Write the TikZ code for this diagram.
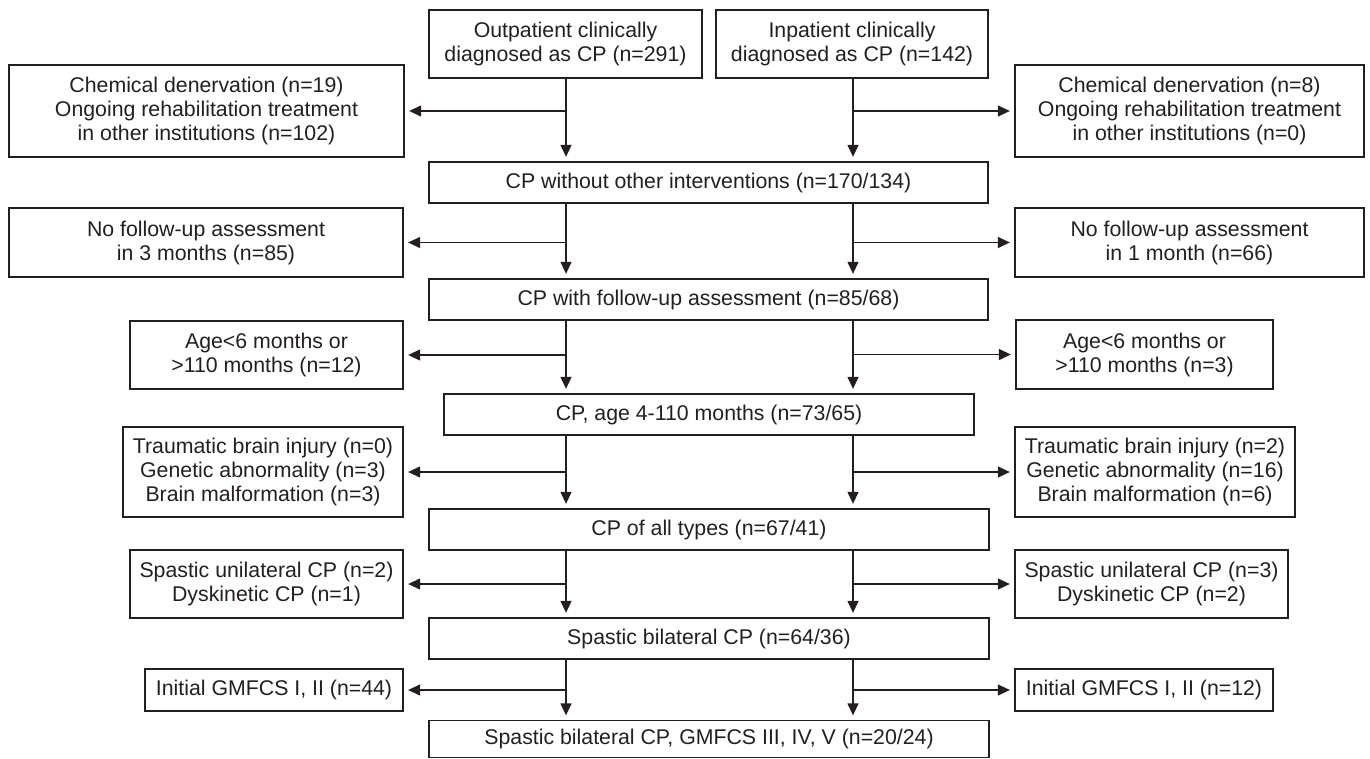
\documentclass[tikz,border=0pt]{standalone}
\usepackage{fontspec}
\setmainfont{Liberation Sans}
\usetikzlibrary{arrows.meta}
\definecolor{ink}{RGB}{35,31,32}
\begin{document}
\begin{tikzpicture}[x=1pt,y=-1pt,
  box/.style={draw=ink, text=ink, line width=1.3pt, align=center, inner sep=0pt,
    font=\fontsize{21.3}{24}\selectfont},
  arr/.style={draw=ink, -{Triangle[length=12pt,width=11pt]}, line width=1.3pt, shorten >=4.5pt}]
\useasboundingbox (0,0) rectangle (1370,759);
% top
\node[box, minimum width=273pt, minimum height=68pt] (out) at (565.5,44) {Outpatient clinically\\diagnosed as CP (n=291)};
\node[box, minimum width=272pt, minimum height=68pt] (inp) at (852,44) {Inpatient clinically\\diagnosed as CP (n=142)};
\node[box, minimum width=395pt, minimum height=92pt] (L1) at (206.5,111) {Chemical denervation (n=19)\\Ongoing rehabilitation treatment\\in other institutions (n=102)};
\node[box, minimum width=349pt, minimum height=92pt] (R1) at (1189.5,111) {Chemical denervation (n=8)\\Ongoing rehabilitation treatment\\in other institutions (n=0)};
\node[box, minimum width=559pt, minimum height=41pt] (C1) at (708.5,182.5) {CP without other interventions (n=170/134)};
\node[box, minimum width=394pt, minimum height=69pt] (L2) at (206,242.5) {No follow-up assessment\\in 3 months (n=85)};
\node[box, minimum width=349pt, minimum height=69pt] (R2) at (1189.5,242.5) {No follow-up assessment\\in 1 month (n=66)};
\node[box, minimum width=559pt, minimum height=41pt] (C2) at (708.5,299.5) {CP with follow-up assessment (n=85/68)};
\node[box, minimum width=273pt, minimum height=68pt] (L3) at (266.5,355) {Age<6 months or\\>110 months (n=12)};
\node[box, minimum width=257pt, minimum height=69pt] (R3) at (1144.5,354.5) {Age<6 months or\\>110 months (n=3)};
\node[box, minimum width=530pt, minimum height=41pt] (C3) at (709,414.5) {CP, age 4-110 months (n=73/65)};
\node[box, minimum width=280pt, minimum height=90pt] (L4) at (263,472) {Traumatic brain injury (n=0)\\Genetic abnormality (n=3)\\Brain malformation (n=3)};
\node[box, minimum width=280pt, minimum height=90pt] (R4) at (1155,472) {Traumatic brain injury (n=2)\\Genetic abnormality (n=16)\\Brain malformation (n=6)};
\node[box, minimum width=560pt, minimum height=41pt] (C4) at (709,529.5) {CP of all types (n=67/41)};
\node[box, minimum width=273pt, minimum height=68pt] (L5) at (266.5,584) {Spastic unilateral CP (n=2)\\Dyskinetic CP (n=1)};
\node[box, minimum width=273pt, minimum height=68pt] (R5) at (1151.5,584) {Spastic unilateral CP (n=3)\\Dyskinetic CP (n=2)};
\node[box, minimum width=560pt, minimum height=41pt] (C5) at (709,638.5) {Spastic bilateral CP (n=64/36)};
\node[box, minimum width=258pt, minimum height=42pt] (L6) at (274,690) {Initial GMFCS I, II (n=44)};
\node[box, minimum width=258pt, minimum height=42pt] (R6) at (1144,690) {Initial GMFCS I, II (n=12)};
\node[box, minimum width=560pt, minimum height=37pt] (C6) at (709,739) {Spastic bilateral CP, GMFCS III, IV, V (n=20/24)};
% trunk coordinates
\coordinate (vL) at (566,0);
\coordinate (vR) at (853,0);
% connectors
\draw[arr] (vL |- out.south) -- (vL |- C1.north);
\draw[arr] (vL |- L1.east) -- (L1.east);
\draw[arr] (vR |- inp.south) -- (vR |- C1.north);
\draw[arr] (vR |- R1.west) -- (R1.west);
\foreach \a/\b/\l/\r in {C1/C2/L2/R2, C2/C3/L3/R3, C3/C4/L4/R4, C4/C5/L5/R5, C5/C6/L6/R6}{
  \draw[arr] (vL |- \a.south) -- (vL |- \b.north);
  \draw[arr] (vL |- \l.east) -- (\l.east);
  \draw[arr] (vR |- \a.south) -- (vR |- \b.north);
  \draw[arr] (vR |- \r.west) -- (\r.west);
}
\end{tikzpicture}
\end{document}
